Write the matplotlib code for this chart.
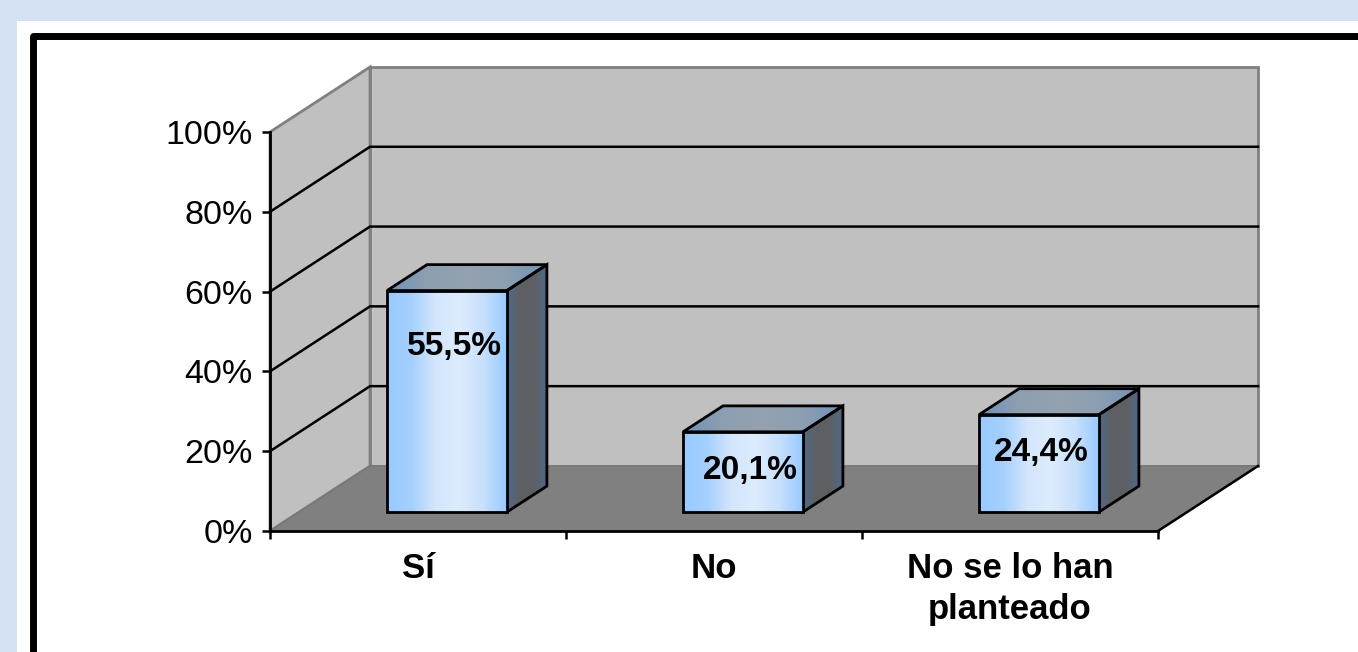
import matplotlib
import numpy as np
matplotlib.use('Agg')
import matplotlib.pyplot as plt
from matplotlib.colors import LinearSegmentedColormap
from matplotlib.lines import Line2D
from matplotlib.patches import Polygon, Rectangle

# values
categories = ['Sí', 'No', 'No se lo han\nplanteado']
values = [55.5, 20.1, 24.4]
value_labels = ['55,5%', '20,1%', '24,4%']
y_ticks = [0, 20, 40, 60, 80, 100]
y_tick_labels = ['0%', '20%', '40%', '60%', '80%', '100%']

W, H = 1358, 652

# 3d look of the plot, in data units
wall_dx, wall_dy = 0.338, 16.3
bar_width = 0.405
bar_gap = 0.098
bar_lift = 4.76
bar_dx, bar_dy = 0.135, 6.5

# where the value label sits relative to the top of the bar (points)
label_offsets = [(5.5, -40), (5.5, -28), (1.5, -27.5)]

front_cmap = LinearSegmentedColormap.from_list('front', ['#98CAFF', '#A4CFFD', '#D3E6FC', '#DCECFE', '#C8E0FB', '#98CAFF'])
top_cmap = LinearSegmentedColormap.from_list('top', ['#6E92B8', '#8C9FB2', '#94A2B0', '#8C9FB2', '#6E92B8'])
side_cmap = LinearSegmentedColormap.from_list('side', ['#4F6A88', '#5E5F62', '#5E5F62', '#4F6A88'])


def gradient_face(ax, pts, cmap, zorder):
    pts = np.array(pts)
    grad = np.linspace(0, 1, 256).reshape(1, -1)
    im = ax.imshow(grad, cmap=cmap, aspect='auto', zorder=zorder, interpolation='bilinear',
                   extent=[pts[:, 0].min(), pts[:, 0].max(), pts[:, 1].min(), pts[:, 1].max()])
    poly = Polygon(pts, closed=True, facecolor='none', edgecolor='black', linewidth=2,
                   joinstyle='miter', zorder=zorder + 0.5, clip_on=False)
    ax.add_patch(poly)
    im.set_clip_path(poly)


fig = plt.figure(figsize=(W / 100, H / 100), dpi=100, facecolor='#D5E2F3')
plt.rcParams['font.family'] = ['Liberation Sans', 'DejaVu Sans']

# white page and black frame behind the chart
fig.add_artist(Rectangle((17 / W, 0), 1 - 17 / W, 1 - 21 / H, transform=fig.transFigure,
                         facecolor='white', edgecolor='none', zorder=-2))
fig.add_artist(Line2D([33 / W, 33 / W, 1.01], [-0.01, 1 - 35.5 / H, 1 - 35.5 / H], transform=fig.transFigure,
                      color='black', linewidth=5, solid_joinstyle='round', zorder=-1))

ax = fig.add_axes([270 / W, (H - 531) / H, 888 / W, 399 / H])
ax.patch.set_alpha(0)

n = len(categories)
ax.add_patch(Polygon([(0, 100), (wall_dx, 100 + wall_dy), (wall_dx, wall_dy), (0, 0)], closed=True,
                     facecolor='#C0C0C0', edgecolor='#808080', linewidth=2, zorder=1, clip_on=False))
ax.add_patch(Polygon([(wall_dx, wall_dy), (n + wall_dx, wall_dy), (n + wall_dx, 100 + wall_dy), (wall_dx, 100 + wall_dy)],
                     closed=True, facecolor='#C0C0C0', edgecolor='#808080', linewidth=2, zorder=1, clip_on=False))
ax.add_patch(Polygon([(0, 0), (n, 0), (n + wall_dx, wall_dy), (wall_dx, wall_dy)], closed=True,
                     facecolor='#808080', edgecolor='#787878', linewidth=1.2, zorder=1.5, clip_on=False))

# gridlines run along the side wall then the back wall
for t in y_ticks[1:-1]:
    ax.plot([0, wall_dx, n + wall_dx], [t, t + wall_dy, t + wall_dy], color='black', linewidth=1.8,
            zorder=2, clip_on=False, solid_joinstyle='miter')

# right hand edge of the floor
ax.plot([n, n + wall_dx], [0, wall_dy], color='black', linewidth=1.8, zorder=2, clip_on=False)

# bars
for i, v in enumerate(values):
    x0 = i + (1 - bar_width) / 2 + bar_gap
    x1 = x0 + bar_width
    y0 = bar_lift
    y1 = y0 + v
    gradient_face(ax, [(x1, y0), (x1 + bar_dx, y0 + bar_dy), (x1 + bar_dx, y1 + bar_dy), (x1, y1)], side_cmap, 3)
    gradient_face(ax, [(x0, y1), (x1, y1), (x1 + bar_dx, y1 + bar_dy), (x0 + bar_dx, y1 + bar_dy)], top_cmap, 3)
    gradient_face(ax, [(x0, y0), (x1, y0), (x1, y1), (x0, y1)], front_cmap, 4)
    ax.annotate(value_labels[i], xy=((x0 + x1) / 2, y1), xytext=label_offsets[i], textcoords='offset points',
                ha='center', va='center', fontsize=24, fontweight='bold', color='black', zorder=6)

ax.set_xlim(0, n)
ax.set_ylim(0, 100)

for side in ['top', 'right']:
    ax.spines[side].set_visible(False)
for side in ['left', 'bottom']:
    ax.spines[side].set_linewidth(2)
    ax.spines[side].set_zorder(5)

ax.set_yticks(y_ticks)
ax.set_yticklabels(y_tick_labels, fontsize=24.5, color='black')
ax.tick_params(axis='y', length=6, width=1.8, pad=6.5)

ax.set_xticks(range(n + 1))
ax.set_xticklabels([])
ax.tick_params(axis='x', which='major', length=6, width=1.8)
ax.set_xticks([i + 0.5 for i in range(n)], minor=True)
ax.set_xticklabels(categories, minor=True, fontsize=25, fontweight='bold', linespacing=1.33)
ax.tick_params(axis='x', which='minor', length=0, pad=15)

fig.savefig('out.png', dpi=100, facecolor=fig.get_facecolor())
